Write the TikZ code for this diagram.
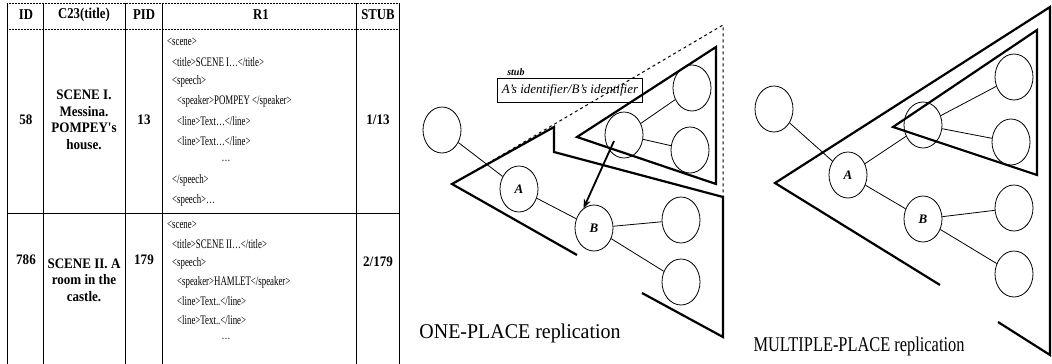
\documentclass[tikz,border=0pt]{standalone}
\usepackage{fontspec}
\setmainfont{Liberation Serif}
\newfontfamily\xmlfont[FakeStretch=0.68]{Liberation Serif}
\newfontfamily\headfont[FakeStretch=0.85]{Liberation Serif}
\newfontfamily\cellfont[FakeStretch=0.9]{Liberation Serif}
\newfontfamily\capfont[FakeStretch=0.95]{Liberation Serif}
\newfontfamily\capnarrow[FakeStretch=0.78]{Liberation Serif}
\usepackage{tikz}
\usetikzlibrary{shapes.geometric, arrows.meta, positioning}

\begin{document}
\begin{tikzpicture}[x=1pt, y=-1pt,
  tnode/.style={ellipse, draw, line width=0.8pt, minimum width=38pt,
    minimum height=46pt, inner sep=0pt,
    font=\bfseries\itshape\fontsize{13}{13}\selectfont},
  edge/.style={line width=0.8pt},
  tri/.style={line width=2.2pt, line join=miter},
  grid/.style={line width=0.5pt},
  head/.style={font=\headfont\bfseries\fontsize{15}{15}\selectfont},
  cell/.style={font=\cellfont\bfseries\fontsize{14.5}{16.5}\selectfont, align=center},
  xml/.style={anchor=west, inner sep=0pt, font=\xmlfont\fontsize{13}{13}\selectfont},
  caption/.style={font=\capfont\fontsize{21}{21}\selectfont},
  arrow/.style={-{Stealth[length=9pt, width=7pt]}, line width=1.8pt},
]
\useasboundingbox (0,0) rectangle (1052,364);

% table
\draw[grid, densely dotted] (7,3) -- (399,3);
\draw[line width=0.9pt] (7,3) -- (7,364);
\draw[grid] (43,3) -- (43,364);
\draw[grid] (125,3) -- (125,364);
\draw[grid] (162,3) -- (162,364);
\draw[grid] (356,3) -- (356,364);
\draw[line width=0.9pt] (399,3) -- (399,364);
\draw[grid, densely dotted] (7,29) -- (399,29);
\draw[grid] (7,213) -- (399,213);

\node[head] (hid) at (26,15) {ID};
\node[head] (htitle) at (84,15) {C23(title)};
\node[head] (hpid) at (144,15) {PID};
\node[head] (hr) at (261,15) {R1};
\node[head] (hstub) at (378,15) {STUB};

\node[cell] (id1) at (26,120) {58};
\node[cell] (title1) at (84,120) {SCENE I.\\Messina.\\POMPEY's\\house.};
\node[cell] (pid1) at (144,120) {13};
\node[cell] (stub1) at (378,120) {1/13};
\node[cell] (id2) at (26,260) {786};
\node[cell] (title2) at (84,280) {SCENE II. A\\room in the\\castle.};
\node[cell] (pid2) at (144,260) {179};
\node[cell] (stub2) at (378,262) {2/179};

\node[xml] (ra1) at (167,42) {<scene>};
\node[xml] (ra2) at (172,62) {<title>SCENE I\ldots</title>};
\node[xml] (ra3) at (172,81.5) {<speech>};
\node[xml] (ra4) at (177,101.5) {<speaker>POMPEY </speaker>};
\node[xml] (ra5) at (177,121) {<line>Text\ldots</line>};
\node[xml] (ra6) at (177,141) {<line>Text\ldots</line>};
\node[xml, anchor=center] (ra7) at (226,161) {\ldots};
\node[xml] (ra8) at (172,180.5) {</speech>};
\node[xml] (ra9) at (172,200) {<speech>\ldots};

\node[xml] (rb1) at (167,225) {<scene>};
\node[xml] (rb2) at (172,244) {<title>SCENE II\ldots</title>};
\node[xml] (rb3) at (172,263) {<speech>};
\node[xml] (rb4) at (177,282) {<speaker>HAMLET</speaker>};
\node[xml] (rb5) at (177,301) {<line>Text..</line>};
\node[xml] (rb6) at (177,320) {<line>Text..</line>};
\node[xml, anchor=center] (rb7) at (226,339) {\ldots};

% one-place replication
\node[tnode] (oL) at (442,130) {};
\node[tnode] (oA) at (519,189) {A};
\node[tnode] (oB) at (594,228) {B};
\node[tnode] (oR) at (624,135) {};
\node[tnode] (oT) at (692,88) {};
\node[tnode] (oM) at (690,150) {};
\node[tnode] (oC) at (681,220) {};
\node[tnode] (oD) at (681,282) {};

\draw[edge] (oL) -- (oA);
\draw[edge] (oA) -- (oB);
\draw[edge] (oR) -- (oT);
\draw[edge] (oR) -- (oM);
\draw[edge] (oB) -- (oC);
\draw[edge] (oB) -- (oD);

\draw[tri] (577,255) -- (452,184) -- (554,127) -- (554,152) -- (723,197) -- (723,337) -- (642,293);
\draw[tri] (577,137) -- (716,47) -- (716,184) -- cycle;
\draw[dashed, line width=1pt] (456,182) -- (723,25) -- (723,197);

\draw[arrow] ([xshift=-10pt, yshift=-6pt]oR.center) -- (oB.118);

\node[draw, line width=0.8pt, minimum width=145pt, minimum height=24pt, inner sep=1pt,
  font=\itshape\fontsize{13}{13}\selectfont] (stubbox) at (570,90) {A's identifier/B's identifier};
\node[font=\bfseries\itshape\fontsize{10}{10}\selectfont, inner sep=0pt,
  above right=2pt and 10pt of stubbox.north west] (stubtxt) {stub};

\node[caption] (cap1) at (520,333) {ONE-PLACE replication};

% multiple-place replication
\node[tnode] (mL) at (774,109) {};
\node[tnode] (mA) at (848,175) {A};
\node[tnode] (mB) at (923,219) {B};
\node[tnode] (mR) at (923,125) {};
\node[tnode] (mT) at (1014,77) {};
\node[tnode] (mM) at (1011,142) {};
\node[tnode] (mC) at (1014,208) {};
\node[tnode] (mD) at (1014,274) {};

\draw[edge] (mL) -- (mA);
\draw[edge] (mA) -- (mR);
\draw[edge] (mA) -- (mB);
\draw[edge] (mR) -- (mT);
\draw[edge] (mR) -- (mM);
\draw[edge] (mB) -- (mC);
\draw[edge] (mB) -- (mD);

\draw[tri] (940,285) -- (775,183) -- (1050,7) -- (1050,355) -- (998,322);
\draw[tri] (893,127) -- (1037,30) -- (1037,175) -- cycle;

\node[caption, font=\capnarrow\fontsize{21}{21}\selectfont] (cap2) at (859,346) {MULTIPLE-PLACE replication};
\end{tikzpicture}
\end{document}
